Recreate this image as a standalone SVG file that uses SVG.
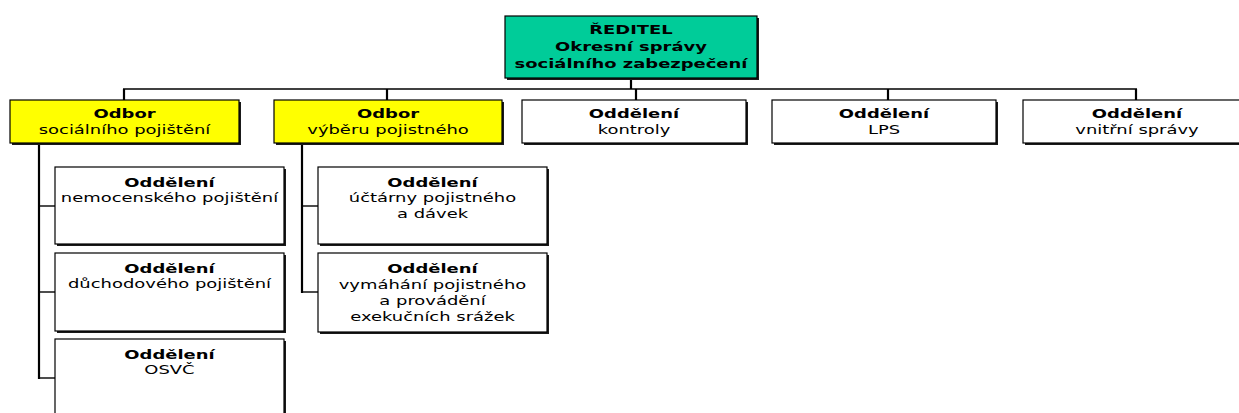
<svg xmlns="http://www.w3.org/2000/svg" width="1239" height="413" viewBox="0 0 1239 413">
<style>
  .shadow { fill: #1a1a1a; }
  .box { stroke: #000; stroke-width: 1.2; }
  .white { fill: #ffffff; }
  .yellow { fill: #ffff00; }
  .teal { fill: #00cc99; }
  text { font-family: "DejaVu Sans", Verdana, sans-serif; font-size: 13px; fill: #000; text-anchor: middle; }
  .b { font-weight: bold; }
  .conn line { stroke: #000; }
  .v { stroke-width: 2.2; }
  .h { stroke-width: 1.4; }
</style>
<rect width="1239" height="413" fill="#ffffff"/>

<g id="connectors" class="conn">
  <line class="v" x1="631" y1="78" x2="631" y2="89"/>
  <line class="h" x1="123" y1="89" x2="1137" y2="89"/>
  <line class="v" x1="124" y1="89" x2="124" y2="100"/>
  <line class="v" x1="387" y1="89" x2="387" y2="100"/>
  <line class="v" x1="636" y1="89" x2="636" y2="100"/>
  <line class="v" x1="888" y1="89" x2="888" y2="100"/>
  <line class="v" x1="1136" y1="89" x2="1136" y2="100"/>
  <line class="v" x1="39" y1="143" x2="39" y2="379"/>
  <line class="h" x1="38" y1="206" x2="55" y2="206"/>
  <line class="h" x1="38" y1="292" x2="55" y2="292"/>
  <line class="h" x1="38" y1="378" x2="55" y2="378"/>
  <line class="v" x1="302" y1="143" x2="302" y2="293"/>
  <line class="h" x1="301" y1="206" x2="318" y2="206"/>
  <line class="h" x1="301" y1="292" x2="318" y2="292"/>
</g>

<g id="reditel">
  <rect class="shadow" x="507" y="18" width="252" height="62"/>
  <rect class="box teal" x="505" y="16" width="252" height="62"/>
  <text class="b" transform="translate(631 0) scale(1.38 1)" y="34">ŘEDITEL</text>
  <text class="b" transform="translate(631 0) scale(1.38 1)" y="51">Okresní správy</text>
  <text class="b" transform="translate(631 0) scale(1.38 1)" y="68">sociálního zabezpečení</text>
</g>

<g id="odbor-socialniho">
  <rect class="shadow" x="12" y="102" width="229" height="43"/>
  <rect class="box yellow" x="10" y="100" width="229" height="43"/>
  <text class="b" transform="translate(124.5 0) scale(1.38 1)" y="118">Odbor</text>
  <text transform="translate(124.5 0) scale(1.38 1)" y="134">sociálního pojištění</text>
</g>

<g id="odbor-vyberu">
  <rect class="shadow" x="276" y="102" width="228" height="43"/>
  <rect class="box yellow" x="274" y="100" width="228" height="43"/>
  <text class="b" transform="translate(388 0) scale(1.38 1)" y="118">Odbor</text>
  <text transform="translate(388 0) scale(1.38 1)" y="134">výběru pojistného</text>
</g>

<g id="oddeleni-kontroly">
  <rect class="shadow" x="524" y="102" width="224" height="43"/>
  <rect class="box white" x="522" y="100" width="224" height="43"/>
  <text class="b" transform="translate(634 0) scale(1.38 1)" y="118">Oddělení</text>
  <text transform="translate(634 0) scale(1.38 1)" y="134">kontroly</text>
</g>

<g id="oddeleni-lps">
  <rect class="shadow" x="774" y="102" width="224" height="43"/>
  <rect class="box white" x="772" y="100" width="224" height="43"/>
  <text class="b" transform="translate(884 0) scale(1.38 1)" y="118">Oddělení</text>
  <text transform="translate(884 0) scale(1.38 1)" y="134">LPS</text>
</g>

<g id="oddeleni-vnitrni">
  <rect class="shadow" x="1025" y="102" width="228" height="43"/>
  <rect class="box white" x="1023" y="100" width="228" height="43"/>
  <text class="b" transform="translate(1137 0) scale(1.38 1)" y="118">Oddělení</text>
  <text transform="translate(1137 0) scale(1.38 1)" y="134">vnitřní správy</text>
</g>

<g id="oddeleni-nemocenskeho">
  <rect class="shadow" x="57" y="169" width="229" height="77"/>
  <rect class="box white" x="55" y="167" width="229" height="77"/>
  <text class="b" transform="translate(169.5 0) scale(1.38 1)" y="187">Oddělení</text>
  <text transform="translate(169.5 0) scale(1.38 1)" y="202">nemocenského pojištění</text>
</g>

<g id="oddeleni-duchodoveho">
  <rect class="shadow" x="57" y="255" width="229" height="78"/>
  <rect class="box white" x="55" y="253" width="229" height="78"/>
  <text class="b" transform="translate(169.5 0) scale(1.38 1)" y="273">Oddělení</text>
  <text transform="translate(169.5 0) scale(1.38 1)" y="288">důchodového pojištění</text>
</g>

<g id="oddeleni-osvc">
  <rect class="shadow" x="57" y="341" width="229" height="80"/>
  <rect class="box white" x="55" y="339" width="229" height="80"/>
  <text class="b" transform="translate(169.5 0) scale(1.38 1)" y="359">Oddělení</text>
  <text transform="translate(169.5 0) scale(1.38 1)" y="374">OSVČ</text>
</g>

<g id="oddeleni-uctarny">
  <rect class="shadow" x="320" y="169" width="229" height="77"/>
  <rect class="box white" x="318" y="167" width="229" height="77"/>
  <text class="b" transform="translate(432.5 0) scale(1.38 1)" y="187">Oddělení</text>
  <text transform="translate(432.5 0) scale(1.38 1)" y="202">účtárny pojistného</text>
  <text transform="translate(432.5 0) scale(1.38 1)" y="218">a dávek</text>
</g>

<g id="oddeleni-vymahani">
  <rect class="shadow" x="320" y="255" width="229" height="79"/>
  <rect class="box white" x="318" y="253" width="229" height="79"/>
  <text class="b" transform="translate(432.5 0) scale(1.38 1)" y="273">Oddělení</text>
  <text transform="translate(432.5 0) scale(1.38 1)" y="289">vymáhání pojistného</text>
  <text transform="translate(432.5 0) scale(1.38 1)" y="305">a provádění</text>
  <text transform="translate(432.5 0) scale(1.38 1)" y="321">exekučních srážek</text>
</g>
</svg>
